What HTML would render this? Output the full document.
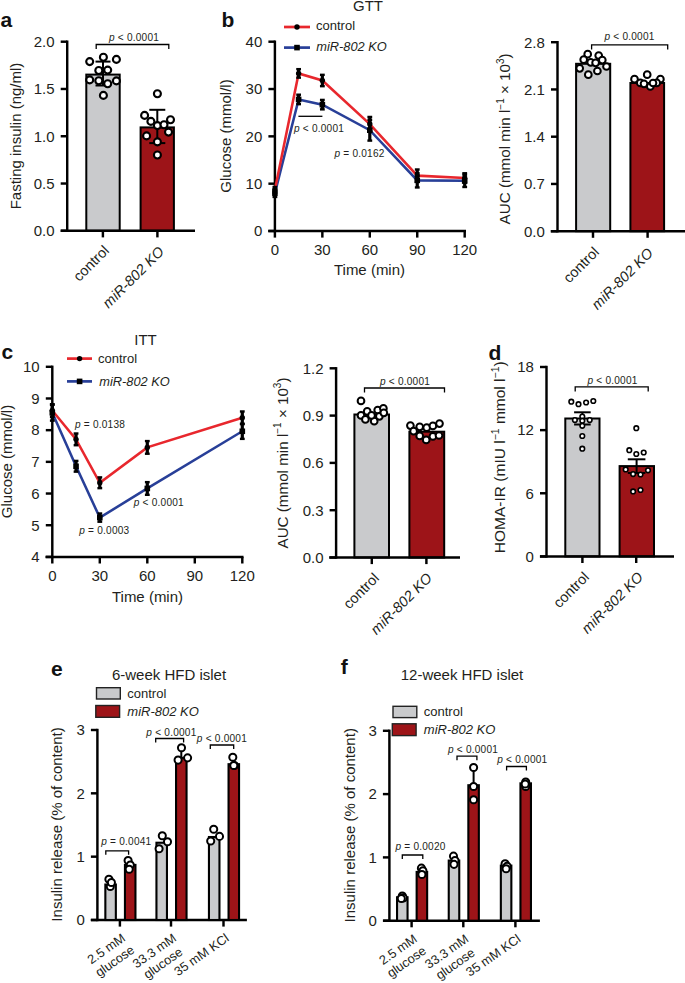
<!DOCTYPE html>
<html><head><meta charset="utf-8"><style>
html,body{margin:0;padding:0;background:#fff;}
svg{display:block;font-family:"Liberation Sans",sans-serif;}
</style></head><body>
<svg width="685" height="983" viewBox="0 0 685 983">
<rect width="685" height="983" fill="#fff"/>
<text x="0.6" y="27.3" font-size="21" text-anchor="start" fill="#111" font-weight="bold">a</text>
<line x1="67.2" y1="40.5" x2="67.2" y2="232" stroke="#000" stroke-width="2.45" stroke-linecap="butt"/>
<line x1="60.7" y1="41.7" x2="67.2" y2="41.7" stroke="#000" stroke-width="2.45" stroke-linecap="butt"/>
<text x="54.6" y="47" font-size="15" text-anchor="end" fill="#231f20">2.0</text>
<line x1="60.7" y1="88.97" x2="67.2" y2="88.97" stroke="#000" stroke-width="2.45" stroke-linecap="butt"/>
<text x="54.6" y="94.27" font-size="15" text-anchor="end" fill="#231f20">1.5</text>
<line x1="60.7" y1="136.25" x2="67.2" y2="136.25" stroke="#000" stroke-width="2.45" stroke-linecap="butt"/>
<text x="54.6" y="141.55" font-size="15" text-anchor="end" fill="#231f20">1.0</text>
<line x1="60.7" y1="183.53" x2="67.2" y2="183.53" stroke="#000" stroke-width="2.45" stroke-linecap="butt"/>
<text x="54.6" y="188.83" font-size="15" text-anchor="end" fill="#231f20">0.5</text>
<line x1="60.7" y1="230.8" x2="67.2" y2="230.8" stroke="#000" stroke-width="2.45" stroke-linecap="butt"/>
<text x="54.6" y="236.1" font-size="15" text-anchor="end" fill="#231f20">0.0</text>
<rect x="86.3" y="74.6" width="33.4" height="156.2" fill="#c9cacc" stroke="#000" stroke-width="2"/>
<rect x="140.6" y="127.4" width="33.3" height="103.4" fill="#9d1418" stroke="#000" stroke-width="2"/>
<line x1="60.7" y1="230.8" x2="195" y2="230.8" stroke="#000" stroke-width="2.45" stroke-linecap="butt"/>
<line x1="102.9" y1="230.8" x2="102.9" y2="237.4" stroke="#000" stroke-width="2.45" stroke-linecap="butt"/>
<line x1="157.4" y1="230.8" x2="157.4" y2="237.4" stroke="#000" stroke-width="2.45" stroke-linecap="butt"/>
<line x1="103" y1="61.6" x2="103" y2="85.5" stroke="#000" stroke-width="2" stroke-linecap="butt"/>
<line x1="95.5" y1="61.6" x2="110.5" y2="61.6" stroke="#000" stroke-width="2" stroke-linecap="butt"/>
<line x1="95.5" y1="85.5" x2="110.5" y2="85.5" stroke="#000" stroke-width="2" stroke-linecap="butt"/>
<line x1="157.3" y1="109.8" x2="157.3" y2="143.1" stroke="#000" stroke-width="2" stroke-linecap="butt"/>
<line x1="149.3" y1="109.8" x2="165.3" y2="109.8" stroke="#000" stroke-width="2" stroke-linecap="butt"/>
<line x1="149.3" y1="143.1" x2="165.3" y2="143.1" stroke="#000" stroke-width="2" stroke-linecap="butt"/>
<circle cx="89.7" cy="61.6" r="3.5" fill="#fff" stroke="#000" stroke-width="2.1"/>
<circle cx="103.4" cy="57.3" r="3.5" fill="#fff" stroke="#000" stroke-width="2.1"/>
<circle cx="116.4" cy="59.4" r="3.5" fill="#fff" stroke="#000" stroke-width="2.1"/>
<circle cx="98.8" cy="70.5" r="3.5" fill="#fff" stroke="#000" stroke-width="2.1"/>
<circle cx="107.7" cy="70.1" r="3.5" fill="#fff" stroke="#000" stroke-width="2.1"/>
<circle cx="89.7" cy="79.9" r="3.5" fill="#fff" stroke="#000" stroke-width="2.1"/>
<circle cx="98.8" cy="80.7" r="3.5" fill="#fff" stroke="#000" stroke-width="2.1"/>
<circle cx="107.7" cy="83.8" r="3.5" fill="#fff" stroke="#000" stroke-width="2.1"/>
<circle cx="116.4" cy="80.9" r="3.5" fill="#fff" stroke="#000" stroke-width="2.1"/>
<circle cx="103.4" cy="95.4" r="3.5" fill="#fff" stroke="#000" stroke-width="2.1"/>
<circle cx="157.4" cy="93.7" r="3.5" fill="#fff" stroke="#000" stroke-width="2.1"/>
<circle cx="144.6" cy="115.4" r="3.5" fill="#fff" stroke="#000" stroke-width="2.1"/>
<circle cx="170.5" cy="119.7" r="3.5" fill="#fff" stroke="#000" stroke-width="2.1"/>
<circle cx="150.9" cy="121.4" r="3.5" fill="#fff" stroke="#000" stroke-width="2.1"/>
<circle cx="157.4" cy="125.6" r="3.5" fill="#fff" stroke="#000" stroke-width="2.1"/>
<circle cx="164" cy="124.8" r="3.5" fill="#fff" stroke="#000" stroke-width="2.1"/>
<circle cx="146.6" cy="135.9" r="3.5" fill="#fff" stroke="#000" stroke-width="2.1"/>
<circle cx="168.5" cy="132.1" r="3.5" fill="#fff" stroke="#000" stroke-width="2.1"/>
<circle cx="157.4" cy="141.9" r="3.5" fill="#fff" stroke="#000" stroke-width="2.1"/>
<circle cx="157.4" cy="155" r="3.5" fill="#fff" stroke="#000" stroke-width="2.1"/>
<polyline points="96.2,49 96.2,44.5 168.8,44.5 168.8,49" fill="none" stroke="#000" stroke-width="1.3" stroke-linejoin="miter"/>
<text x="134" y="40.5" font-size="10.1" text-anchor="middle" letter-spacing="0.22" fill="#231f20"><tspan font-style="italic">p</tspan> &lt; 0.0001</text>
<text x="20.5" y="136" font-size="15" text-anchor="middle" fill="#231f20" transform="rotate(-90 20.5 136)">Fasting insulin (ng/ml)</text>
<text x="110" y="251.5" font-size="14.5" text-anchor="end" fill="#231f20" transform="rotate(-45 110 251.5)">control</text>
<text x="165" y="252.5" font-size="14.5" text-anchor="end" fill="#231f20" font-style="italic" transform="rotate(-45 165 252.5)">miR-802 KO</text>
<text x="221.5" y="27.3" font-size="21" text-anchor="start" fill="#111" font-weight="bold">b</text>
<text x="368" y="11.2" font-size="15" text-anchor="middle" fill="#231f20">GTT</text>
<line x1="274.9" y1="40.5" x2="274.9" y2="232.2" stroke="#000" stroke-width="2.45" stroke-linecap="butt"/>
<line x1="268.4" y1="41.7" x2="274.9" y2="41.7" stroke="#000" stroke-width="2.45" stroke-linecap="butt"/>
<text x="262.3" y="47" font-size="15" text-anchor="end" fill="#231f20">40</text>
<line x1="268.4" y1="89.03" x2="274.9" y2="89.03" stroke="#000" stroke-width="2.45" stroke-linecap="butt"/>
<text x="262.3" y="94.33" font-size="15" text-anchor="end" fill="#231f20">30</text>
<line x1="268.4" y1="136.35" x2="274.9" y2="136.35" stroke="#000" stroke-width="2.45" stroke-linecap="butt"/>
<text x="262.3" y="141.65" font-size="15" text-anchor="end" fill="#231f20">20</text>
<line x1="268.4" y1="183.68" x2="274.9" y2="183.68" stroke="#000" stroke-width="2.45" stroke-linecap="butt"/>
<text x="262.3" y="188.98" font-size="15" text-anchor="end" fill="#231f20">10</text>
<line x1="268.4" y1="231" x2="274.9" y2="231" stroke="#000" stroke-width="2.45" stroke-linecap="butt"/>
<text x="262.3" y="236.3" font-size="15" text-anchor="end" fill="#231f20">0</text>
<line x1="268.2" y1="231" x2="466" y2="231" stroke="#000" stroke-width="2.45" stroke-linecap="butt"/>
<line x1="274.9" y1="231" x2="274.9" y2="237.6" stroke="#000" stroke-width="2.45" stroke-linecap="butt"/>
<text x="274.9" y="255" font-size="15" text-anchor="middle" fill="#231f20">0</text>
<line x1="322.35" y1="231" x2="322.35" y2="237.6" stroke="#000" stroke-width="2.45" stroke-linecap="butt"/>
<text x="322.35" y="255" font-size="15" text-anchor="middle" fill="#231f20">30</text>
<line x1="369.8" y1="231" x2="369.8" y2="237.6" stroke="#000" stroke-width="2.45" stroke-linecap="butt"/>
<text x="369.8" y="255" font-size="15" text-anchor="middle" fill="#231f20">60</text>
<line x1="417.25" y1="231" x2="417.25" y2="237.6" stroke="#000" stroke-width="2.45" stroke-linecap="butt"/>
<text x="417.25" y="255" font-size="15" text-anchor="middle" fill="#231f20">90</text>
<line x1="464.7" y1="231" x2="464.7" y2="237.6" stroke="#000" stroke-width="2.45" stroke-linecap="butt"/>
<text x="464.7" y="255" font-size="15" text-anchor="middle" fill="#231f20">120</text>
<text x="369.5" y="275.4" font-size="15" text-anchor="middle" fill="#231f20">Time (min)</text>
<text x="231" y="136" font-size="15" text-anchor="middle" fill="#231f20" transform="rotate(-90 231 136)">Glucose (mmol/l)</text>
<line x1="284" y1="27" x2="310" y2="27" stroke="#e8272d" stroke-width="2.7" stroke-linecap="butt"/>
<circle cx="297" cy="27" r="2.7" fill="#000"/>
<text x="316" y="30.1" font-size="13" text-anchor="start" fill="#231f20">control</text>
<line x1="284" y1="47.6" x2="310" y2="47.6" stroke="#283f98" stroke-width="2.7" stroke-linecap="butt"/>
<rect x="294.2" y="44.8" width="5.6" height="5.6" fill="#000"/>
<text x="316.3" y="51.1" font-size="12.8" text-anchor="start" fill="#231f20" font-style="italic">miR-802 KO</text>
<polyline points="274.9,193.14 298.62,99.44 322.35,104.64 369.8,130.2 417.25,180.36 464.7,180.84" fill="none" stroke="#283f98" stroke-width="2.55" stroke-linejoin="miter"/>
<polyline points="274.9,189.83 298.62,73.41 322.35,80.51 369.8,124.05 417.25,175.63 464.7,178" fill="none" stroke="#e8272d" stroke-width="2.55" stroke-linejoin="miter"/>
<line x1="274.9" y1="186.99" x2="274.9" y2="192.67" stroke="#000" stroke-width="3.2" stroke-linecap="butt"/>
<line x1="272.5" y1="186.99" x2="277.3" y2="186.99" stroke="#000" stroke-width="2.4" stroke-linecap="butt"/>
<line x1="272.5" y1="192.67" x2="277.3" y2="192.67" stroke="#000" stroke-width="2.4" stroke-linecap="butt"/>
<circle cx="274.9" cy="189.83" r="2.7" fill="#000"/>
<line x1="298.62" y1="69.15" x2="298.62" y2="77.67" stroke="#000" stroke-width="3.2" stroke-linecap="butt"/>
<line x1="296.23" y1="69.15" x2="301.02" y2="69.15" stroke="#000" stroke-width="2.4" stroke-linecap="butt"/>
<line x1="296.23" y1="77.67" x2="301.02" y2="77.67" stroke="#000" stroke-width="2.4" stroke-linecap="butt"/>
<circle cx="298.62" cy="73.41" r="2.7" fill="#000"/>
<line x1="322.35" y1="74.83" x2="322.35" y2="86.19" stroke="#000" stroke-width="3.2" stroke-linecap="butt"/>
<line x1="319.95" y1="74.83" x2="324.75" y2="74.83" stroke="#000" stroke-width="2.4" stroke-linecap="butt"/>
<line x1="319.95" y1="86.19" x2="324.75" y2="86.19" stroke="#000" stroke-width="2.4" stroke-linecap="butt"/>
<circle cx="322.35" cy="80.51" r="2.7" fill="#000"/>
<line x1="369.8" y1="116.95" x2="369.8" y2="131.14" stroke="#000" stroke-width="3.2" stroke-linecap="butt"/>
<line x1="367.4" y1="116.95" x2="372.2" y2="116.95" stroke="#000" stroke-width="2.4" stroke-linecap="butt"/>
<line x1="367.4" y1="131.14" x2="372.2" y2="131.14" stroke="#000" stroke-width="2.4" stroke-linecap="butt"/>
<circle cx="369.8" cy="124.05" r="2.7" fill="#000"/>
<line x1="417.25" y1="169.48" x2="417.25" y2="181.78" stroke="#000" stroke-width="3.2" stroke-linecap="butt"/>
<line x1="414.85" y1="169.48" x2="419.65" y2="169.48" stroke="#000" stroke-width="2.4" stroke-linecap="butt"/>
<line x1="414.85" y1="181.78" x2="419.65" y2="181.78" stroke="#000" stroke-width="2.4" stroke-linecap="butt"/>
<circle cx="417.25" cy="175.63" r="2.7" fill="#000"/>
<line x1="464.7" y1="173.26" x2="464.7" y2="182.73" stroke="#000" stroke-width="3.2" stroke-linecap="butt"/>
<line x1="462.3" y1="173.26" x2="467.1" y2="173.26" stroke="#000" stroke-width="2.4" stroke-linecap="butt"/>
<line x1="462.3" y1="182.73" x2="467.1" y2="182.73" stroke="#000" stroke-width="2.4" stroke-linecap="butt"/>
<circle cx="464.7" cy="178" r="2.7" fill="#000"/>
<line x1="274.9" y1="189.35" x2="274.9" y2="196.93" stroke="#000" stroke-width="3.2" stroke-linecap="butt"/>
<line x1="272.5" y1="189.35" x2="277.3" y2="189.35" stroke="#000" stroke-width="2.4" stroke-linecap="butt"/>
<line x1="272.5" y1="196.93" x2="277.3" y2="196.93" stroke="#000" stroke-width="2.4" stroke-linecap="butt"/>
<rect x="272.1" y="190.34" width="5.6" height="5.6" fill="#000"/>
<line x1="298.62" y1="94.7" x2="298.62" y2="104.17" stroke="#000" stroke-width="3.2" stroke-linecap="butt"/>
<line x1="296.23" y1="94.7" x2="301.02" y2="94.7" stroke="#000" stroke-width="2.4" stroke-linecap="butt"/>
<line x1="296.23" y1="104.17" x2="301.02" y2="104.17" stroke="#000" stroke-width="2.4" stroke-linecap="butt"/>
<rect x="295.82" y="96.64" width="5.6" height="5.6" fill="#000"/>
<line x1="322.35" y1="99.91" x2="322.35" y2="109.37" stroke="#000" stroke-width="3.2" stroke-linecap="butt"/>
<line x1="319.95" y1="99.91" x2="324.75" y2="99.91" stroke="#000" stroke-width="2.4" stroke-linecap="butt"/>
<line x1="319.95" y1="109.37" x2="324.75" y2="109.37" stroke="#000" stroke-width="2.4" stroke-linecap="butt"/>
<rect x="319.55" y="101.84" width="5.6" height="5.6" fill="#000"/>
<line x1="369.8" y1="119.79" x2="369.8" y2="140.61" stroke="#000" stroke-width="3.2" stroke-linecap="butt"/>
<line x1="367.4" y1="119.79" x2="372.2" y2="119.79" stroke="#000" stroke-width="2.4" stroke-linecap="butt"/>
<line x1="367.4" y1="140.61" x2="372.2" y2="140.61" stroke="#000" stroke-width="2.4" stroke-linecap="butt"/>
<rect x="367" y="127.4" width="5.6" height="5.6" fill="#000"/>
<line x1="417.25" y1="173.26" x2="417.25" y2="187.46" stroke="#000" stroke-width="3.2" stroke-linecap="butt"/>
<line x1="414.85" y1="173.26" x2="419.65" y2="173.26" stroke="#000" stroke-width="2.4" stroke-linecap="butt"/>
<line x1="414.85" y1="187.46" x2="419.65" y2="187.46" stroke="#000" stroke-width="2.4" stroke-linecap="butt"/>
<rect x="414.45" y="177.56" width="5.6" height="5.6" fill="#000"/>
<line x1="464.7" y1="174.68" x2="464.7" y2="186.99" stroke="#000" stroke-width="3.2" stroke-linecap="butt"/>
<line x1="462.3" y1="174.68" x2="467.1" y2="174.68" stroke="#000" stroke-width="2.4" stroke-linecap="butt"/>
<line x1="462.3" y1="186.99" x2="467.1" y2="186.99" stroke="#000" stroke-width="2.4" stroke-linecap="butt"/>
<rect x="461.9" y="178.04" width="5.6" height="5.6" fill="#000"/>
<line x1="298.4" y1="116.3" x2="322.4" y2="116.3" stroke="#000" stroke-width="1.3" stroke-linecap="butt"/>
<text x="319" y="131.7" font-size="10.1" text-anchor="middle" letter-spacing="0.22" fill="#231f20"><tspan font-style="italic">p</tspan> &lt; 0.0001</text>
<text x="359.5" y="156.5" font-size="10.1" text-anchor="middle" letter-spacing="0.22" fill="#231f20"><tspan font-style="italic">p</tspan> = 0.0162</text>
<line x1="557.5" y1="41" x2="557.5" y2="232.4" stroke="#000" stroke-width="2.45" stroke-linecap="butt"/>
<line x1="551" y1="42.2" x2="557.5" y2="42.2" stroke="#000" stroke-width="2.45" stroke-linecap="butt"/>
<text x="544.9" y="47.5" font-size="15" text-anchor="end" fill="#231f20">2.8</text>
<line x1="551" y1="89.45" x2="557.5" y2="89.45" stroke="#000" stroke-width="2.45" stroke-linecap="butt"/>
<text x="544.9" y="94.75" font-size="15" text-anchor="end" fill="#231f20">2.1</text>
<line x1="551" y1="136.7" x2="557.5" y2="136.7" stroke="#000" stroke-width="2.45" stroke-linecap="butt"/>
<text x="544.9" y="142" font-size="15" text-anchor="end" fill="#231f20">1.4</text>
<line x1="551" y1="183.95" x2="557.5" y2="183.95" stroke="#000" stroke-width="2.45" stroke-linecap="butt"/>
<text x="544.9" y="189.25" font-size="15" text-anchor="end" fill="#231f20">0.7</text>
<line x1="551" y1="231.2" x2="557.5" y2="231.2" stroke="#000" stroke-width="2.45" stroke-linecap="butt"/>
<text x="544.9" y="236.5" font-size="15" text-anchor="end" fill="#231f20">0.0</text>
<rect x="576.1" y="63.8" width="34.1" height="167.4" fill="#c9cacc" stroke="#000" stroke-width="2"/>
<rect x="630.4" y="83" width="33.7" height="148.2" fill="#9d1418" stroke="#000" stroke-width="2"/>
<line x1="550.7" y1="231.2" x2="685" y2="231.2" stroke="#000" stroke-width="2.45" stroke-linecap="butt"/>
<line x1="593" y1="231.2" x2="593" y2="237.8" stroke="#000" stroke-width="2.45" stroke-linecap="butt"/>
<line x1="647.6" y1="231.2" x2="647.6" y2="237.8" stroke="#000" stroke-width="2.45" stroke-linecap="butt"/>
<circle cx="587.7" cy="54.2" r="3.35" fill="#fff" stroke="#000" stroke-width="2"/>
<circle cx="598.7" cy="55.5" r="3.35" fill="#fff" stroke="#000" stroke-width="2"/>
<circle cx="583.7" cy="59.7" r="3.35" fill="#fff" stroke="#000" stroke-width="2"/>
<circle cx="590.7" cy="62.3" r="3.35" fill="#fff" stroke="#000" stroke-width="2"/>
<circle cx="595.6" cy="62.8" r="3.35" fill="#fff" stroke="#000" stroke-width="2"/>
<circle cx="602.3" cy="60.1" r="3.35" fill="#fff" stroke="#000" stroke-width="2"/>
<circle cx="579.7" cy="68.3" r="3.35" fill="#fff" stroke="#000" stroke-width="2"/>
<circle cx="606.5" cy="66.5" r="3.35" fill="#fff" stroke="#000" stroke-width="2"/>
<circle cx="597.4" cy="71" r="3.35" fill="#fff" stroke="#000" stroke-width="2"/>
<circle cx="588.3" cy="74.7" r="3.35" fill="#fff" stroke="#000" stroke-width="2"/>
<circle cx="647.2" cy="74.7" r="3.35" fill="#fff" stroke="#000" stroke-width="2"/>
<circle cx="634.5" cy="79.2" r="3.35" fill="#fff" stroke="#000" stroke-width="2"/>
<circle cx="660.4" cy="79.2" r="3.35" fill="#fff" stroke="#000" stroke-width="2"/>
<circle cx="640.3" cy="82.9" r="3.35" fill="#fff" stroke="#000" stroke-width="2"/>
<circle cx="644" cy="83.8" r="3.35" fill="#fff" stroke="#000" stroke-width="2"/>
<circle cx="656.7" cy="82.9" r="3.35" fill="#fff" stroke="#000" stroke-width="2"/>
<circle cx="650.3" cy="86.5" r="3.35" fill="#fff" stroke="#000" stroke-width="2"/>
<circle cx="653" cy="83" r="3.35" fill="#fff" stroke="#000" stroke-width="2"/>
<polyline points="591.6,49.4 591.6,44.9 667.7,44.9 667.7,49.4" fill="none" stroke="#000" stroke-width="1.3" stroke-linejoin="miter"/>
<text x="629.5" y="40.3" font-size="10.1" text-anchor="middle" letter-spacing="0.22" fill="#231f20"><tspan font-style="italic">p</tspan> &lt; 0.0001</text>
<text x="510.3" y="138.9" font-size="15.2" text-anchor="middle" fill="#231f20" transform="rotate(-90 510.3 138.9)">AUC (mmol min l<tspan dy="-6.7" font-size="10">−1</tspan><tspan dy="6.7"> × 10</tspan><tspan dy="-6.7" font-size="10">3</tspan><tspan dy="6.7">)</tspan></text>
<text x="600" y="253" font-size="14.5" text-anchor="end" fill="#231f20" transform="rotate(-45 600 253)">control</text>
<text x="654" y="254" font-size="14.5" text-anchor="end" fill="#231f20" font-style="italic" transform="rotate(-45 654 254)">miR-802 KO</text>
<text x="1.5" y="359.3" font-size="21" text-anchor="start" fill="#111" font-weight="bold">c</text>
<text x="145.5" y="344.6" font-size="15" text-anchor="middle" fill="#231f20">ITT</text>
<line x1="52.3" y1="365.6" x2="52.3" y2="558.1" stroke="#000" stroke-width="2.45" stroke-linecap="butt"/>
<line x1="45.8" y1="366.8" x2="52.3" y2="366.8" stroke="#000" stroke-width="2.45" stroke-linecap="butt"/>
<text x="39.7" y="372.1" font-size="15" text-anchor="end" fill="#231f20">10</text>
<line x1="45.8" y1="398.48" x2="52.3" y2="398.48" stroke="#000" stroke-width="2.45" stroke-linecap="butt"/>
<text x="39.7" y="403.78" font-size="15" text-anchor="end" fill="#231f20">9</text>
<line x1="45.8" y1="430.17" x2="52.3" y2="430.17" stroke="#000" stroke-width="2.45" stroke-linecap="butt"/>
<text x="39.7" y="435.47" font-size="15" text-anchor="end" fill="#231f20">8</text>
<line x1="45.8" y1="461.85" x2="52.3" y2="461.85" stroke="#000" stroke-width="2.45" stroke-linecap="butt"/>
<text x="39.7" y="467.15" font-size="15" text-anchor="end" fill="#231f20">7</text>
<line x1="45.8" y1="493.53" x2="52.3" y2="493.53" stroke="#000" stroke-width="2.45" stroke-linecap="butt"/>
<text x="39.7" y="498.83" font-size="15" text-anchor="end" fill="#231f20">6</text>
<line x1="45.8" y1="525.22" x2="52.3" y2="525.22" stroke="#000" stroke-width="2.45" stroke-linecap="butt"/>
<text x="39.7" y="530.52" font-size="15" text-anchor="end" fill="#231f20">5</text>
<line x1="45.8" y1="556.9" x2="52.3" y2="556.9" stroke="#000" stroke-width="2.45" stroke-linecap="butt"/>
<text x="39.7" y="562.2" font-size="15" text-anchor="end" fill="#231f20">4</text>
<line x1="45.5" y1="556.9" x2="243.5" y2="556.9" stroke="#000" stroke-width="2.45" stroke-linecap="butt"/>
<line x1="52.3" y1="556.9" x2="52.3" y2="563.5" stroke="#000" stroke-width="2.45" stroke-linecap="butt"/>
<text x="52.3" y="580.9" font-size="15" text-anchor="middle" fill="#231f20">0</text>
<line x1="99.8" y1="556.9" x2="99.8" y2="563.5" stroke="#000" stroke-width="2.45" stroke-linecap="butt"/>
<text x="99.8" y="580.9" font-size="15" text-anchor="middle" fill="#231f20">30</text>
<line x1="147.3" y1="556.9" x2="147.3" y2="563.5" stroke="#000" stroke-width="2.45" stroke-linecap="butt"/>
<text x="147.3" y="580.9" font-size="15" text-anchor="middle" fill="#231f20">60</text>
<line x1="194.8" y1="556.9" x2="194.8" y2="563.5" stroke="#000" stroke-width="2.45" stroke-linecap="butt"/>
<text x="194.8" y="580.9" font-size="15" text-anchor="middle" fill="#231f20">90</text>
<line x1="242.3" y1="556.9" x2="242.3" y2="563.5" stroke="#000" stroke-width="2.45" stroke-linecap="butt"/>
<text x="242.3" y="580.9" font-size="15" text-anchor="middle" fill="#231f20">120</text>
<text x="147.5" y="601.6" font-size="15" text-anchor="middle" fill="#231f20">Time (min)</text>
<text x="11.7" y="461.5" font-size="15" text-anchor="middle" fill="#231f20" transform="rotate(-90 11.7 461.5)">Glucose (mmol/l)</text>
<line x1="67" y1="358.6" x2="92" y2="358.6" stroke="#e8272d" stroke-width="2.7" stroke-linecap="butt"/>
<circle cx="79.6" cy="358.6" r="2.7" fill="#000"/>
<text x="98" y="363.2" font-size="13" text-anchor="start" fill="#231f20">control</text>
<line x1="67" y1="381.4" x2="92" y2="381.4" stroke="#283f98" stroke-width="2.7" stroke-linecap="butt"/>
<rect x="76.8" y="378.6" width="5.6" height="5.6" fill="#000"/>
<text x="99.3" y="385.7" font-size="12.8" text-anchor="start" fill="#231f20" font-style="italic">miR-802 KO</text>
<polyline points="52.3,412.74 76.05,466.29 99.8,517.61 147.3,488.46 242.3,431.28" fill="none" stroke="#283f98" stroke-width="2.55" stroke-linejoin="miter"/>
<polyline points="52.3,410.52 76.05,439.35 99.8,482.76 147.3,447.4 242.3,417.81" fill="none" stroke="#e8272d" stroke-width="2.55" stroke-linejoin="miter"/>
<line x1="52.3" y1="404.19" x2="52.3" y2="416.86" stroke="#000" stroke-width="3.2" stroke-linecap="butt"/>
<line x1="49.9" y1="404.19" x2="54.7" y2="404.19" stroke="#000" stroke-width="2.4" stroke-linecap="butt"/>
<line x1="49.9" y1="416.86" x2="54.7" y2="416.86" stroke="#000" stroke-width="2.4" stroke-linecap="butt"/>
<circle cx="52.3" cy="410.52" r="2.7" fill="#000"/>
<line x1="76.05" y1="433.49" x2="76.05" y2="445.22" stroke="#000" stroke-width="3.2" stroke-linecap="butt"/>
<line x1="73.65" y1="433.49" x2="78.45" y2="433.49" stroke="#000" stroke-width="2.4" stroke-linecap="butt"/>
<line x1="73.65" y1="445.22" x2="78.45" y2="445.22" stroke="#000" stroke-width="2.4" stroke-linecap="butt"/>
<circle cx="76.05" cy="439.35" r="2.7" fill="#000"/>
<line x1="99.8" y1="477.37" x2="99.8" y2="488.15" stroke="#000" stroke-width="3.2" stroke-linecap="butt"/>
<line x1="97.4" y1="477.37" x2="102.2" y2="477.37" stroke="#000" stroke-width="2.4" stroke-linecap="butt"/>
<line x1="97.4" y1="488.15" x2="102.2" y2="488.15" stroke="#000" stroke-width="2.4" stroke-linecap="butt"/>
<circle cx="99.8" cy="482.76" r="2.7" fill="#000"/>
<line x1="147.3" y1="441.07" x2="147.3" y2="453.74" stroke="#000" stroke-width="3.2" stroke-linecap="butt"/>
<line x1="144.9" y1="441.07" x2="149.7" y2="441.07" stroke="#000" stroke-width="2.4" stroke-linecap="butt"/>
<line x1="144.9" y1="453.74" x2="149.7" y2="453.74" stroke="#000" stroke-width="2.4" stroke-linecap="butt"/>
<circle cx="147.3" cy="447.4" r="2.7" fill="#000"/>
<line x1="242.3" y1="411.47" x2="242.3" y2="424.15" stroke="#000" stroke-width="3.2" stroke-linecap="butt"/>
<line x1="239.9" y1="411.47" x2="244.7" y2="411.47" stroke="#000" stroke-width="2.4" stroke-linecap="butt"/>
<line x1="239.9" y1="424.15" x2="244.7" y2="424.15" stroke="#000" stroke-width="2.4" stroke-linecap="butt"/>
<circle cx="242.3" cy="417.81" r="2.7" fill="#000"/>
<line x1="52.3" y1="404.82" x2="52.3" y2="420.66" stroke="#000" stroke-width="3.2" stroke-linecap="butt"/>
<line x1="49.9" y1="404.82" x2="54.7" y2="404.82" stroke="#000" stroke-width="2.4" stroke-linecap="butt"/>
<line x1="49.9" y1="420.66" x2="54.7" y2="420.66" stroke="#000" stroke-width="2.4" stroke-linecap="butt"/>
<rect x="49.5" y="409.94" width="5.6" height="5.6" fill="#000"/>
<line x1="76.05" y1="460.9" x2="76.05" y2="471.67" stroke="#000" stroke-width="3.2" stroke-linecap="butt"/>
<line x1="73.65" y1="460.9" x2="78.45" y2="460.9" stroke="#000" stroke-width="2.4" stroke-linecap="butt"/>
<line x1="73.65" y1="471.67" x2="78.45" y2="471.67" stroke="#000" stroke-width="2.4" stroke-linecap="butt"/>
<rect x="73.25" y="463.49" width="5.6" height="5.6" fill="#000"/>
<line x1="99.8" y1="513.49" x2="99.8" y2="521.73" stroke="#000" stroke-width="3.2" stroke-linecap="butt"/>
<line x1="97.4" y1="513.49" x2="102.2" y2="513.49" stroke="#000" stroke-width="2.4" stroke-linecap="butt"/>
<line x1="97.4" y1="521.73" x2="102.2" y2="521.73" stroke="#000" stroke-width="2.4" stroke-linecap="butt"/>
<rect x="97" y="514.81" width="5.6" height="5.6" fill="#000"/>
<line x1="147.3" y1="482.13" x2="147.3" y2="494.8" stroke="#000" stroke-width="3.2" stroke-linecap="butt"/>
<line x1="144.9" y1="482.13" x2="149.7" y2="482.13" stroke="#000" stroke-width="2.4" stroke-linecap="butt"/>
<line x1="144.9" y1="494.8" x2="149.7" y2="494.8" stroke="#000" stroke-width="2.4" stroke-linecap="butt"/>
<rect x="144.5" y="485.66" width="5.6" height="5.6" fill="#000"/>
<line x1="242.3" y1="423.67" x2="242.3" y2="438.88" stroke="#000" stroke-width="3.2" stroke-linecap="butt"/>
<line x1="239.9" y1="423.67" x2="244.7" y2="423.67" stroke="#000" stroke-width="2.4" stroke-linecap="butt"/>
<line x1="239.9" y1="438.88" x2="244.7" y2="438.88" stroke="#000" stroke-width="2.4" stroke-linecap="butt"/>
<rect x="239.5" y="428.48" width="5.6" height="5.6" fill="#000"/>
<text x="100" y="428" font-size="10.1" text-anchor="middle" letter-spacing="0.22" fill="#231f20"><tspan font-style="italic">p</tspan> = 0.0138</text>
<text x="104.3" y="534" font-size="10.1" text-anchor="middle" letter-spacing="0.22" fill="#231f20"><tspan font-style="italic">p</tspan> = 0.0003</text>
<text x="158.8" y="505.5" font-size="10.1" text-anchor="middle" letter-spacing="0.22" fill="#231f20"><tspan font-style="italic">p</tspan> &lt; 0.0001</text>
<line x1="336.1" y1="367.1" x2="336.1" y2="558.7" stroke="#000" stroke-width="2.45" stroke-linecap="butt"/>
<line x1="329.6" y1="368.3" x2="336.1" y2="368.3" stroke="#000" stroke-width="2.45" stroke-linecap="butt"/>
<text x="323.5" y="373.6" font-size="15" text-anchor="end" fill="#231f20">1.2</text>
<line x1="329.6" y1="415.6" x2="336.1" y2="415.6" stroke="#000" stroke-width="2.45" stroke-linecap="butt"/>
<text x="323.5" y="420.9" font-size="15" text-anchor="end" fill="#231f20">0.9</text>
<line x1="329.6" y1="462.9" x2="336.1" y2="462.9" stroke="#000" stroke-width="2.45" stroke-linecap="butt"/>
<text x="323.5" y="468.2" font-size="15" text-anchor="end" fill="#231f20">0.6</text>
<line x1="329.6" y1="510.2" x2="336.1" y2="510.2" stroke="#000" stroke-width="2.45" stroke-linecap="butt"/>
<text x="323.5" y="515.5" font-size="15" text-anchor="end" fill="#231f20">0.3</text>
<line x1="329.6" y1="557.5" x2="336.1" y2="557.5" stroke="#000" stroke-width="2.45" stroke-linecap="butt"/>
<text x="323.5" y="562.8" font-size="15" text-anchor="end" fill="#231f20">0.0</text>
<rect x="354.4" y="414.5" width="34.6" height="143" fill="#c9cacc" stroke="#000" stroke-width="2"/>
<rect x="409.4" y="431.7" width="34.8" height="125.8" fill="#9d1418" stroke="#000" stroke-width="2"/>
<line x1="329.2" y1="557.5" x2="460" y2="557.5" stroke="#000" stroke-width="2.45" stroke-linecap="butt"/>
<line x1="371.8" y1="557.5" x2="371.8" y2="564.1" stroke="#000" stroke-width="2.45" stroke-linecap="butt"/>
<line x1="426.4" y1="557.5" x2="426.4" y2="564.1" stroke="#000" stroke-width="2.45" stroke-linecap="butt"/>
<circle cx="361" cy="400.9" r="3.35" fill="#fff" stroke="#000" stroke-width="2"/>
<circle cx="367.2" cy="411.4" r="3.35" fill="#fff" stroke="#000" stroke-width="2"/>
<circle cx="377.7" cy="410.1" r="3.35" fill="#fff" stroke="#000" stroke-width="2"/>
<circle cx="383.4" cy="408.4" r="3.35" fill="#fff" stroke="#000" stroke-width="2"/>
<circle cx="361" cy="415.4" r="3.35" fill="#fff" stroke="#000" stroke-width="2"/>
<circle cx="365.4" cy="419.4" r="3.35" fill="#fff" stroke="#000" stroke-width="2"/>
<circle cx="374.2" cy="421.2" r="3.35" fill="#fff" stroke="#000" stroke-width="2"/>
<circle cx="371.5" cy="415.4" r="3.35" fill="#fff" stroke="#000" stroke-width="2"/>
<circle cx="379.4" cy="416.3" r="3.35" fill="#fff" stroke="#000" stroke-width="2"/>
<circle cx="383.8" cy="412.8" r="3.35" fill="#fff" stroke="#000" stroke-width="2"/>
<circle cx="410.4" cy="425.6" r="3.35" fill="#fff" stroke="#000" stroke-width="2"/>
<circle cx="419.7" cy="426.8" r="3.35" fill="#fff" stroke="#000" stroke-width="2"/>
<circle cx="426.7" cy="427.7" r="3.35" fill="#fff" stroke="#000" stroke-width="2"/>
<circle cx="432.9" cy="425.9" r="3.35" fill="#fff" stroke="#000" stroke-width="2"/>
<circle cx="439.5" cy="423.6" r="3.35" fill="#fff" stroke="#000" stroke-width="2"/>
<circle cx="413.6" cy="431.2" r="3.35" fill="#fff" stroke="#000" stroke-width="2"/>
<circle cx="419.7" cy="435.9" r="3.35" fill="#fff" stroke="#000" stroke-width="2"/>
<circle cx="426.2" cy="439.9" r="3.35" fill="#fff" stroke="#000" stroke-width="2"/>
<circle cx="432.9" cy="436.4" r="3.35" fill="#fff" stroke="#000" stroke-width="2"/>
<circle cx="439" cy="435.5" r="3.35" fill="#fff" stroke="#000" stroke-width="2"/>
<polyline points="364.5,392.5 364.5,388 444.5,388 444.5,392.5" fill="none" stroke="#000" stroke-width="1.3" stroke-linejoin="miter"/>
<text x="405" y="384.5" font-size="10.1" text-anchor="middle" letter-spacing="0.22" fill="#231f20"><tspan font-style="italic">p</tspan> &lt; 0.0001</text>
<text x="288" y="463" font-size="15.2" text-anchor="middle" fill="#231f20" transform="rotate(-90 288 463)">AUC (mmol min l<tspan dy="-6.7" font-size="10">−1</tspan><tspan dy="6.7"> × 10</tspan><tspan dy="-6.7" font-size="10">3</tspan><tspan dy="6.7">)</tspan></text>
<text x="380" y="579" font-size="14.5" text-anchor="end" fill="#231f20" transform="rotate(-45 380 579)">control</text>
<text x="433" y="579" font-size="14.5" text-anchor="end" fill="#231f20" font-style="italic" transform="rotate(-45 433 579)">miR-802 KO</text>
<text x="488.5" y="360.3" font-size="21" text-anchor="start" fill="#111" font-weight="bold">d</text>
<line x1="546.5" y1="365.8" x2="546.5" y2="557.6" stroke="#000" stroke-width="2.45" stroke-linecap="butt"/>
<line x1="540" y1="367" x2="546.5" y2="367" stroke="#000" stroke-width="2.45" stroke-linecap="butt"/>
<text x="533.9" y="372.3" font-size="15" text-anchor="end" fill="#231f20">18</text>
<line x1="540" y1="430.13" x2="546.5" y2="430.13" stroke="#000" stroke-width="2.45" stroke-linecap="butt"/>
<text x="533.9" y="435.43" font-size="15" text-anchor="end" fill="#231f20">12</text>
<line x1="540" y1="493.27" x2="546.5" y2="493.27" stroke="#000" stroke-width="2.45" stroke-linecap="butt"/>
<text x="533.9" y="498.57" font-size="15" text-anchor="end" fill="#231f20">6</text>
<line x1="540" y1="556.4" x2="546.5" y2="556.4" stroke="#000" stroke-width="2.45" stroke-linecap="butt"/>
<text x="533.9" y="561.7" font-size="15" text-anchor="end" fill="#231f20">0</text>
<rect x="565.3" y="418.5" width="34.2" height="137.9" fill="#c9cacc" stroke="#000" stroke-width="2"/>
<rect x="619.6" y="466.1" width="34.4" height="90.3" fill="#9d1418" stroke="#000" stroke-width="2"/>
<line x1="539.9" y1="556.4" x2="674" y2="556.4" stroke="#000" stroke-width="2.45" stroke-linecap="butt"/>
<line x1="582.4" y1="556.4" x2="582.4" y2="563" stroke="#000" stroke-width="2.45" stroke-linecap="butt"/>
<line x1="636.2" y1="556.4" x2="636.2" y2="563" stroke="#000" stroke-width="2.45" stroke-linecap="butt"/>
<line x1="582.4" y1="412.3" x2="582.4" y2="424.5" stroke="#000" stroke-width="2" stroke-linecap="butt"/>
<line x1="574.1" y1="412.3" x2="590.7" y2="412.3" stroke="#000" stroke-width="2" stroke-linecap="butt"/>
<line x1="574.1" y1="424.5" x2="590.7" y2="424.5" stroke="#000" stroke-width="2" stroke-linecap="butt"/>
<line x1="636.6" y1="459.3" x2="636.6" y2="473" stroke="#000" stroke-width="2" stroke-linecap="butt"/>
<line x1="627.8" y1="459.3" x2="645.4" y2="459.3" stroke="#000" stroke-width="2" stroke-linecap="butt"/>
<line x1="627.8" y1="473" x2="645.4" y2="473" stroke="#000" stroke-width="2" stroke-linecap="butt"/>
<circle cx="571.3" cy="401.7" r="2.3" fill="#fff" stroke="#000" stroke-width="1.6"/>
<circle cx="578.5" cy="404.2" r="2.3" fill="#fff" stroke="#000" stroke-width="1.6"/>
<circle cx="586.1" cy="402.5" r="2.3" fill="#fff" stroke="#000" stroke-width="1.6"/>
<circle cx="593.3" cy="401" r="2.3" fill="#fff" stroke="#000" stroke-width="1.6"/>
<circle cx="574.9" cy="420.1" r="2.3" fill="#fff" stroke="#000" stroke-width="1.6"/>
<circle cx="582.3" cy="416.5" r="2.3" fill="#fff" stroke="#000" stroke-width="1.6"/>
<circle cx="582.3" cy="420.7" r="2.3" fill="#fff" stroke="#000" stroke-width="1.6"/>
<circle cx="589.7" cy="420.1" r="2.3" fill="#fff" stroke="#000" stroke-width="1.6"/>
<circle cx="582.3" cy="425.8" r="2.3" fill="#fff" stroke="#000" stroke-width="1.6"/>
<circle cx="582.3" cy="436" r="2.3" fill="#fff" stroke="#000" stroke-width="1.6"/>
<circle cx="582.3" cy="448.7" r="2.3" fill="#fff" stroke="#000" stroke-width="1.6"/>
<circle cx="636.3" cy="428.2" r="2.3" fill="#fff" stroke="#000" stroke-width="1.6"/>
<circle cx="629.3" cy="450.2" r="2.3" fill="#fff" stroke="#000" stroke-width="1.6"/>
<circle cx="636.3" cy="454" r="2.3" fill="#fff" stroke="#000" stroke-width="1.6"/>
<circle cx="643.7" cy="452.5" r="2.3" fill="#fff" stroke="#000" stroke-width="1.6"/>
<circle cx="625.7" cy="469.4" r="2.3" fill="#fff" stroke="#000" stroke-width="1.6"/>
<circle cx="633.1" cy="474.1" r="2.3" fill="#fff" stroke="#000" stroke-width="1.6"/>
<circle cx="640.5" cy="474.5" r="2.3" fill="#fff" stroke="#000" stroke-width="1.6"/>
<circle cx="648" cy="470.3" r="2.3" fill="#fff" stroke="#000" stroke-width="1.6"/>
<circle cx="633.1" cy="491.4" r="2.3" fill="#fff" stroke="#000" stroke-width="1.6"/>
<circle cx="640.5" cy="490" r="2.3" fill="#fff" stroke="#000" stroke-width="1.6"/>
<polyline points="575.2,391.4 575.2,386.9 648.2,386.9 648.2,391.4" fill="none" stroke="#000" stroke-width="1.3" stroke-linejoin="miter"/>
<text x="612.5" y="383.9" font-size="10.1" text-anchor="middle" letter-spacing="0.22" fill="#231f20"><tspan font-style="italic">p</tspan> &lt; 0.0001</text>
<text x="505.3" y="457.2" font-size="15.5" text-anchor="middle" fill="#231f20" transform="rotate(-90 505.3 457.2)">HOMA-IR (mIU l<tspan dy="-6.5" font-size="10.5">−1</tspan><tspan dy="6.5"> mmol l</tspan><tspan dy="-6.5" font-size="10.5">−1</tspan><tspan dy="6.5">)</tspan></text>
<text x="590" y="578" font-size="14.5" text-anchor="end" fill="#231f20" transform="rotate(-45 590 578)">control</text>
<text x="644" y="578" font-size="14.5" text-anchor="end" fill="#231f20" font-style="italic" transform="rotate(-45 644 578)">miR-802 KO</text>
<text x="51.1" y="675.8" font-size="21" text-anchor="start" fill="#111" font-weight="bold">e</text>
<text x="169" y="680" font-size="15" text-anchor="middle" fill="#231f20">6-week HFD islet</text>
<rect x="96.5" y="687.7" width="23.8" height="11.3" fill="#c9cacc" stroke="#222" stroke-width="1.4"/>
<rect x="95.8" y="705.5" width="23.8" height="11.8" fill="#9d1418" stroke="#222" stroke-width="1.4"/>
<text x="127.3" y="697.8" font-size="13" text-anchor="start" fill="#231f20">control</text>
<text x="127.3" y="715.8" font-size="13" text-anchor="start" fill="#231f20" font-style="italic">miR-802 KO</text>
<line x1="97.4" y1="728.8" x2="97.4" y2="921.2" stroke="#000" stroke-width="2.45" stroke-linecap="butt"/>
<line x1="90.9" y1="730" x2="97.4" y2="730" stroke="#000" stroke-width="2.45" stroke-linecap="butt"/>
<text x="84.8" y="735.3" font-size="15" text-anchor="end" fill="#231f20">3</text>
<line x1="90.9" y1="793.33" x2="97.4" y2="793.33" stroke="#000" stroke-width="2.45" stroke-linecap="butt"/>
<text x="84.8" y="798.63" font-size="15" text-anchor="end" fill="#231f20">2</text>
<line x1="90.9" y1="856.67" x2="97.4" y2="856.67" stroke="#000" stroke-width="2.45" stroke-linecap="butt"/>
<text x="84.8" y="861.97" font-size="15" text-anchor="end" fill="#231f20">1</text>
<line x1="90.9" y1="920" x2="97.4" y2="920" stroke="#000" stroke-width="2.45" stroke-linecap="butt"/>
<text x="84.8" y="925.3" font-size="15" text-anchor="end" fill="#231f20">0</text>
<line x1="90.8" y1="920" x2="246.9" y2="920" stroke="#000" stroke-width="2.45" stroke-linecap="butt"/>
<line x1="119.9" y1="920" x2="119.9" y2="926.6" stroke="#000" stroke-width="2.45" stroke-linecap="butt"/>
<rect x="105.35" y="884.53" width="10.5" height="35.47" fill="#c9cacc" stroke="#000" stroke-width="2.1"/>
<circle cx="110.3" cy="886.5" r="3.55" fill="#fff" stroke="#000" stroke-width="2"/>
<circle cx="108.9" cy="879.21" r="3.55" fill="#fff" stroke="#000" stroke-width="2"/>
<circle cx="111.4" cy="882.51" r="3.55" fill="#fff" stroke="#000" stroke-width="2"/>
<rect x="124.95" y="864.9" width="10.5" height="55.1" fill="#9d1418" stroke="#000" stroke-width="2.1"/>
<circle cx="128.1" cy="860.59" r="3.55" fill="#fff" stroke="#000" stroke-width="2"/>
<circle cx="130.3" cy="865.03" r="3.55" fill="#fff" stroke="#000" stroke-width="2"/>
<circle cx="129.2" cy="869.27" r="3.55" fill="#fff" stroke="#000" stroke-width="2"/>
<line x1="171" y1="920" x2="171" y2="926.6" stroke="#000" stroke-width="2.45" stroke-linecap="butt"/>
<rect x="156.45" y="842.73" width="10.5" height="77.27" fill="#c9cacc" stroke="#000" stroke-width="2.1"/>
<circle cx="162.3" cy="835.77" r="3.55" fill="#fff" stroke="#000" stroke-width="2"/>
<circle cx="167.5" cy="841.72" r="3.55" fill="#fff" stroke="#000" stroke-width="2"/>
<circle cx="159.1" cy="848.81" r="3.55" fill="#fff" stroke="#000" stroke-width="2"/>
<rect x="176.05" y="757.87" width="10.5" height="162.13" fill="#9d1418" stroke="#000" stroke-width="2.1"/>
<line x1="181.3" y1="757.87" x2="181.3" y2="747.73" stroke="#000" stroke-width="2" stroke-linecap="butt"/>
<circle cx="181.5" cy="747.73" r="3.55" fill="#fff" stroke="#000" stroke-width="2"/>
<circle cx="178.1" cy="760.08" r="3.55" fill="#fff" stroke="#000" stroke-width="2"/>
<circle cx="187.6" cy="757.87" r="3.55" fill="#fff" stroke="#000" stroke-width="2"/>
<line x1="223.5" y1="920" x2="223.5" y2="926.6" stroke="#000" stroke-width="2.45" stroke-linecap="butt"/>
<rect x="208.95" y="837.03" width="10.5" height="82.97" fill="#c9cacc" stroke="#000" stroke-width="2.1"/>
<circle cx="213.7" cy="829.31" r="3.55" fill="#fff" stroke="#000" stroke-width="2"/>
<circle cx="219.5" cy="836.4" r="3.55" fill="#fff" stroke="#000" stroke-width="2"/>
<circle cx="210.7" cy="841.02" r="3.55" fill="#fff" stroke="#000" stroke-width="2"/>
<rect x="228.55" y="764.2" width="10.5" height="155.8" fill="#9d1418" stroke="#000" stroke-width="2.1"/>
<circle cx="232.8" cy="757.23" r="3.55" fill="#fff" stroke="#000" stroke-width="2"/>
<circle cx="234.3" cy="765.47" r="3.55" fill="#fff" stroke="#000" stroke-width="2"/>
<circle cx="233.8" cy="765.47" r="3.55" fill="#fff" stroke="#000" stroke-width="2"/>
<polyline points="105.8,854.8 105.8,850.8 128.6,850.8 128.6,854.8" fill="none" stroke="#000" stroke-width="1.3" stroke-linejoin="miter"/>
<text x="126.3" y="845" font-size="10.1" text-anchor="middle" letter-spacing="0.22" fill="#231f20"><tspan font-style="italic">p</tspan> = 0.0041</text>
<polyline points="155.7,742.5 155.7,738.5 183.6,738.5 183.6,742.5" fill="none" stroke="#000" stroke-width="1.3" stroke-linejoin="miter"/>
<text x="171.4" y="735.8" font-size="10.1" text-anchor="middle" letter-spacing="0.22" fill="#231f20"><tspan font-style="italic">p</tspan> &lt; 0.0001</text>
<polyline points="210.3,749 210.3,745 233.7,745 233.7,749" fill="none" stroke="#000" stroke-width="1.3" stroke-linejoin="miter"/>
<text x="221.9" y="741.8" font-size="10.1" text-anchor="middle" letter-spacing="0.22" fill="#231f20"><tspan font-style="italic">p</tspan> &lt; 0.0001</text>
<text x="62.4" y="824.5" font-size="15" text-anchor="middle" fill="#231f20" transform="rotate(-90 62.4 824.5)">Insulin release (% of content)</text>
<text font-size="12.8" text-anchor="middle" fill="#231f20" transform="translate(126.2 940.1) rotate(-35)"><tspan x="-21.34" y="0">2.5 mM</tspan><tspan x="-21.34" y="15">glucose</tspan></text>
<text font-size="12.8" text-anchor="middle" fill="#231f20" transform="translate(177.3 940.1) rotate(-35)"><tspan x="-24.9" y="0">33.3 mM</tspan><tspan x="-24.9" y="15">glucose</tspan></text>
<text font-size="12.8" text-anchor="middle" fill="#231f20" transform="translate(229.8 940.1) rotate(-35)"><tspan x="-31.65" y="0">35 mM KCl</tspan></text>
<text x="340.8" y="674.3" font-size="21" text-anchor="start" fill="#111" font-weight="bold">f</text>
<text x="462" y="680.3" font-size="15" text-anchor="middle" fill="#231f20">12-week HFD islet</text>
<rect x="393" y="706.3" width="23.8" height="11.3" fill="#c9cacc" stroke="#222" stroke-width="1.4"/>
<rect x="392.3" y="723.8" width="23.8" height="11.8" fill="#9d1418" stroke="#222" stroke-width="1.4"/>
<text x="423.8" y="716.4" font-size="13" text-anchor="start" fill="#231f20">control</text>
<text x="423.8" y="734.1" font-size="13" text-anchor="start" fill="#231f20" font-style="italic">miR-802 KO</text>
<line x1="389.4" y1="729.6" x2="389.4" y2="921.9" stroke="#000" stroke-width="2.45" stroke-linecap="butt"/>
<line x1="382.9" y1="730.8" x2="389.4" y2="730.8" stroke="#000" stroke-width="2.45" stroke-linecap="butt"/>
<text x="376.8" y="736.1" font-size="15" text-anchor="end" fill="#231f20">3</text>
<line x1="382.9" y1="794.1" x2="389.4" y2="794.1" stroke="#000" stroke-width="2.45" stroke-linecap="butt"/>
<text x="376.8" y="799.4" font-size="15" text-anchor="end" fill="#231f20">2</text>
<line x1="382.9" y1="857.4" x2="389.4" y2="857.4" stroke="#000" stroke-width="2.45" stroke-linecap="butt"/>
<text x="376.8" y="862.7" font-size="15" text-anchor="end" fill="#231f20">1</text>
<line x1="382.9" y1="920.7" x2="389.4" y2="920.7" stroke="#000" stroke-width="2.45" stroke-linecap="butt"/>
<text x="376.8" y="926" font-size="15" text-anchor="end" fill="#231f20">0</text>
<line x1="383.2" y1="920.7" x2="539.9" y2="920.7" stroke="#000" stroke-width="2.45" stroke-linecap="butt"/>
<line x1="411.6" y1="920.7" x2="411.6" y2="927.3" stroke="#000" stroke-width="2.45" stroke-linecap="butt"/>
<rect x="397.05" y="897.28" width="10.5" height="23.42" fill="#c9cacc" stroke="#000" stroke-width="2.1"/>
<circle cx="402.3" cy="896.01" r="3.55" fill="#fff" stroke="#000" stroke-width="2"/>
<circle cx="403.3" cy="897.91" r="3.55" fill="#fff" stroke="#000" stroke-width="2"/>
<circle cx="401.3" cy="898.55" r="3.55" fill="#fff" stroke="#000" stroke-width="2"/>
<rect x="416.65" y="871.96" width="10.5" height="48.74" fill="#9d1418" stroke="#000" stroke-width="2.1"/>
<circle cx="421.4" cy="868.16" r="3.55" fill="#fff" stroke="#000" stroke-width="2"/>
<circle cx="422.9" cy="870.69" r="3.55" fill="#fff" stroke="#000" stroke-width="2"/>
<circle cx="421.9" cy="874.49" r="3.55" fill="#fff" stroke="#000" stroke-width="2"/>
<line x1="463.3" y1="920.7" x2="463.3" y2="927.3" stroke="#000" stroke-width="2.45" stroke-linecap="butt"/>
<rect x="448.75" y="860.57" width="10.5" height="60.13" fill="#c9cacc" stroke="#000" stroke-width="2.1"/>
<circle cx="453.5" cy="856.13" r="3.55" fill="#fff" stroke="#000" stroke-width="2"/>
<circle cx="455" cy="860.57" r="3.55" fill="#fff" stroke="#000" stroke-width="2"/>
<circle cx="454" cy="864.36" r="3.55" fill="#fff" stroke="#000" stroke-width="2"/>
<rect x="468.35" y="785.24" width="10.5" height="135.46" fill="#9d1418" stroke="#000" stroke-width="2.1"/>
<line x1="473.6" y1="785.24" x2="473.6" y2="767.51" stroke="#000" stroke-width="2" stroke-linecap="butt"/>
<circle cx="473.6" cy="767.51" r="3.55" fill="#fff" stroke="#000" stroke-width="2"/>
<circle cx="473.6" cy="786.5" r="3.55" fill="#fff" stroke="#000" stroke-width="2"/>
<circle cx="473.6" cy="799.8" r="3.55" fill="#fff" stroke="#000" stroke-width="2"/>
<line x1="515.4" y1="920.7" x2="515.4" y2="927.3" stroke="#000" stroke-width="2.45" stroke-linecap="butt"/>
<rect x="500.85" y="865.63" width="10.5" height="55.07" fill="#c9cacc" stroke="#000" stroke-width="2.1"/>
<circle cx="505.1" cy="863.73" r="3.55" fill="#fff" stroke="#000" stroke-width="2"/>
<circle cx="507.1" cy="866.26" r="3.55" fill="#fff" stroke="#000" stroke-width="2"/>
<circle cx="506.1" cy="868.79" r="3.55" fill="#fff" stroke="#000" stroke-width="2"/>
<rect x="520.45" y="783.34" width="10.5" height="137.36" fill="#9d1418" stroke="#000" stroke-width="2.1"/>
<circle cx="525.7" cy="782.07" r="3.55" fill="#fff" stroke="#000" stroke-width="2"/>
<circle cx="525.7" cy="786.5" r="3.55" fill="#fff" stroke="#000" stroke-width="2"/>
<circle cx="525.2" cy="783.97" r="3.55" fill="#fff" stroke="#000" stroke-width="2"/>
<polyline points="402.3,859 402.3,855 422.8,855 422.8,859" fill="none" stroke="#000" stroke-width="1.3" stroke-linejoin="miter"/>
<text x="420.5" y="850.3" font-size="10.1" text-anchor="middle" letter-spacing="0.22" fill="#231f20"><tspan font-style="italic">p</tspan> = 0.0020</text>
<polyline points="457,760.2 457,756.2 476.9,756.2 476.9,760.2" fill="none" stroke="#000" stroke-width="1.3" stroke-linejoin="miter"/>
<text x="473" y="753" font-size="10.1" text-anchor="middle" letter-spacing="0.22" fill="#231f20"><tspan font-style="italic">p</tspan> &lt; 0.0001</text>
<polyline points="506.6,770.5 506.6,766.5 526.4,766.5 526.4,770.5" fill="none" stroke="#000" stroke-width="1.3" stroke-linejoin="miter"/>
<text x="522.3" y="762.7" font-size="10.1" text-anchor="middle" letter-spacing="0.22" fill="#231f20"><tspan font-style="italic">p</tspan> &lt; 0.0001</text>
<text x="354.6" y="825.25" font-size="15" text-anchor="middle" fill="#231f20" transform="rotate(-90 354.6 825.25)">Insulin release (% of content)</text>
<text font-size="12.8" text-anchor="middle" fill="#231f20" transform="translate(417.9 940.8) rotate(-35)"><tspan x="-21.34" y="0">2.5 mM</tspan><tspan x="-21.34" y="15">glucose</tspan></text>
<text font-size="12.8" text-anchor="middle" fill="#231f20" transform="translate(469.6 940.8) rotate(-35)"><tspan x="-24.9" y="0">33.3 mM</tspan><tspan x="-24.9" y="15">glucose</tspan></text>
<text font-size="12.8" text-anchor="middle" fill="#231f20" transform="translate(521.7 940.8) rotate(-35)"><tspan x="-31.65" y="0">35 mM KCl</tspan></text>
</svg>
</body></html>
